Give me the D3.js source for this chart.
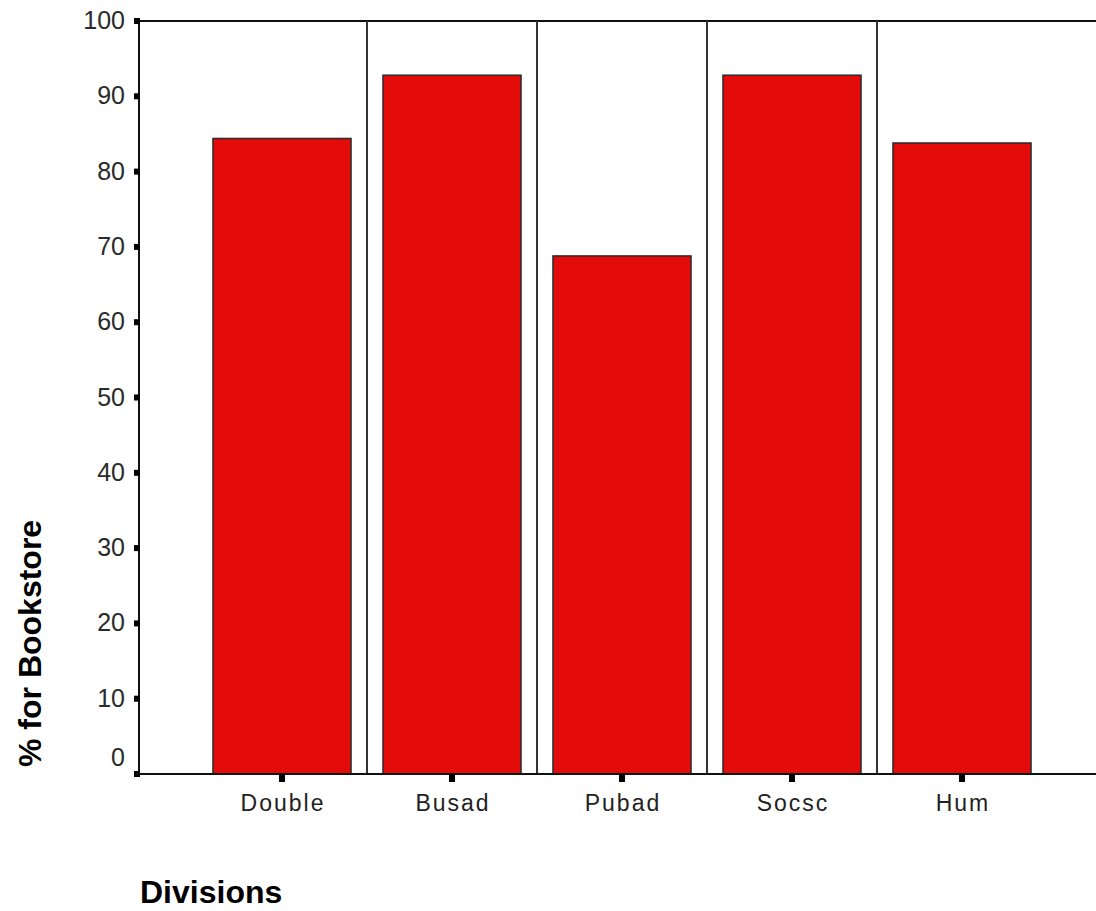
<!DOCTYPE html>
<html>
<head>
<meta charset="utf-8">
<script src="https://cdn.jsdelivr.net/npm/d3@7"></script>
<style>
  body { margin: 0; background: #fff; }
  svg { display: block; }
  text { font-family: Arial, "Liberation Sans", sans-serif; }
</style>
</head>
<body>
<svg width="1096" height="911" viewBox="0 0 1096 911"></svg>
<script>
// Chart data
const divisions = ["Double", "Busad", "Pubad", "Socsc", "Hum"];
const pctBookstore = [84.4, 92.8, 68.8, 92.8, 83.8];
const yTicks = [0, 10, 20, 30, 40, 50, 60, 70, 80, 90, 100];

const svg = d3.select("svg");
const width = 1096;

const plotLeft = 139, plotTop = 21, plotBottom = 774;

const x = d3.scaleBand()
    .domain(divisions)
    .range([197, 1047])
    .paddingInner(0.188)
    .paddingOuter(0.094);

const y = d3.scaleLinear()
    .domain([0, 100])
    .range([plotBottom, plotTop]);

// Frame top line
svg.append("line")
    .attr("x1", plotLeft).attr("x2", width)
    .attr("y1", plotTop).attr("y2", plotTop)
    .attr("stroke", "#111").attr("stroke-width", 2);

// Vertical separators between categories
const step = x.step();
svg.append("g")
    .selectAll("line")
    .data(divisions.slice(0, -1))
    .join("line")
    .attr("x1", d => x(d) + x.bandwidth() + step * x.paddingInner() / 2)
    .attr("x2", d => x(d) + x.bandwidth() + step * x.paddingInner() / 2)
    .attr("y1", plotTop)
    .attr("y2", plotBottom)
    .attr("stroke", "#333")
    .attr("stroke-width", 2);

// Bars
svg.append("g")
    .selectAll("rect")
    .data(divisions)
    .join("rect")
    .attr("x", d => x(d))
    .attr("y", (d, i) => y(pctBookstore[i]))
    .attr("width", x.bandwidth())
    .attr("height", (d, i) => y(0) - y(pctBookstore[i]))
    .attr("fill", "#e40b0b")
    .attr("stroke", "#2a2a2a")
    .attr("stroke-width", 1.5);

// Y axis
const yAxis = svg.append("g");
yAxis.append("line")
    .attr("x1", plotLeft).attr("x2", plotLeft)
    .attr("y1", plotTop).attr("y2", plotBottom)
    .attr("stroke", "#111").attr("stroke-width", 2);

yAxis.selectAll("rect.tick")
    .data(yTicks)
    .join("rect")
    .attr("class", "tick")
    .attr("x", plotLeft - 5)
    .attr("y", d => y(d) - 3)
    .attr("width", 6)
    .attr("height", 6)
    .attr("fill", "#000");

// the 0 label sits a bit above its tick, clear of the x axis
yAxis.selectAll("text")
    .data(yTicks)
    .join("text")
    .attr("x", 125)
    .attr("y", d => y(d) + (d === 0 ? -8 : 8))
    .attr("text-anchor", "end")
    .attr("font-size", 25)
    .attr("fill", "#2a2a2a")
    .text(d => d);

// X axis
const xAxis = svg.append("g");
xAxis.append("line")
    .attr("x1", plotLeft - 3).attr("x2", width)
    .attr("y1", plotBottom).attr("y2", plotBottom)
    .attr("stroke", "#111").attr("stroke-width", 2);

xAxis.selectAll("rect")
    .data(divisions)
    .join("rect")
    .attr("x", d => x(d) + x.bandwidth() / 2 - 3)
    .attr("y", plotBottom)
    .attr("width", 6)
    .attr("height", 8)
    .attr("fill", "#000");

xAxis.selectAll("text")
    .data(divisions)
    .join("text")
    .attr("x", d => x(d) + x.bandwidth() / 2 + 1)
    .attr("y", 811)
    .attr("text-anchor", "middle")
    .attr("font-size", 23)
    .attr("letter-spacing", 2)
    .attr("fill", "#222")
    .text(d => d);

// Axis titles
svg.append("text")
    .attr("transform", "translate(41,767) rotate(-90)")
    .attr("text-anchor", "start")
    .attr("font-size", 32)
    .attr("font-weight", "bold")
    .attr("fill", "#000")
    .text("% for Bookstore");

svg.append("text")
    .attr("x", 140)
    .attr("y", 903)
    .attr("font-size", 32)
    .attr("font-weight", "bold")
    .attr("fill", "#000")
    .text("Divisions");
</script>
</body>
</html>
